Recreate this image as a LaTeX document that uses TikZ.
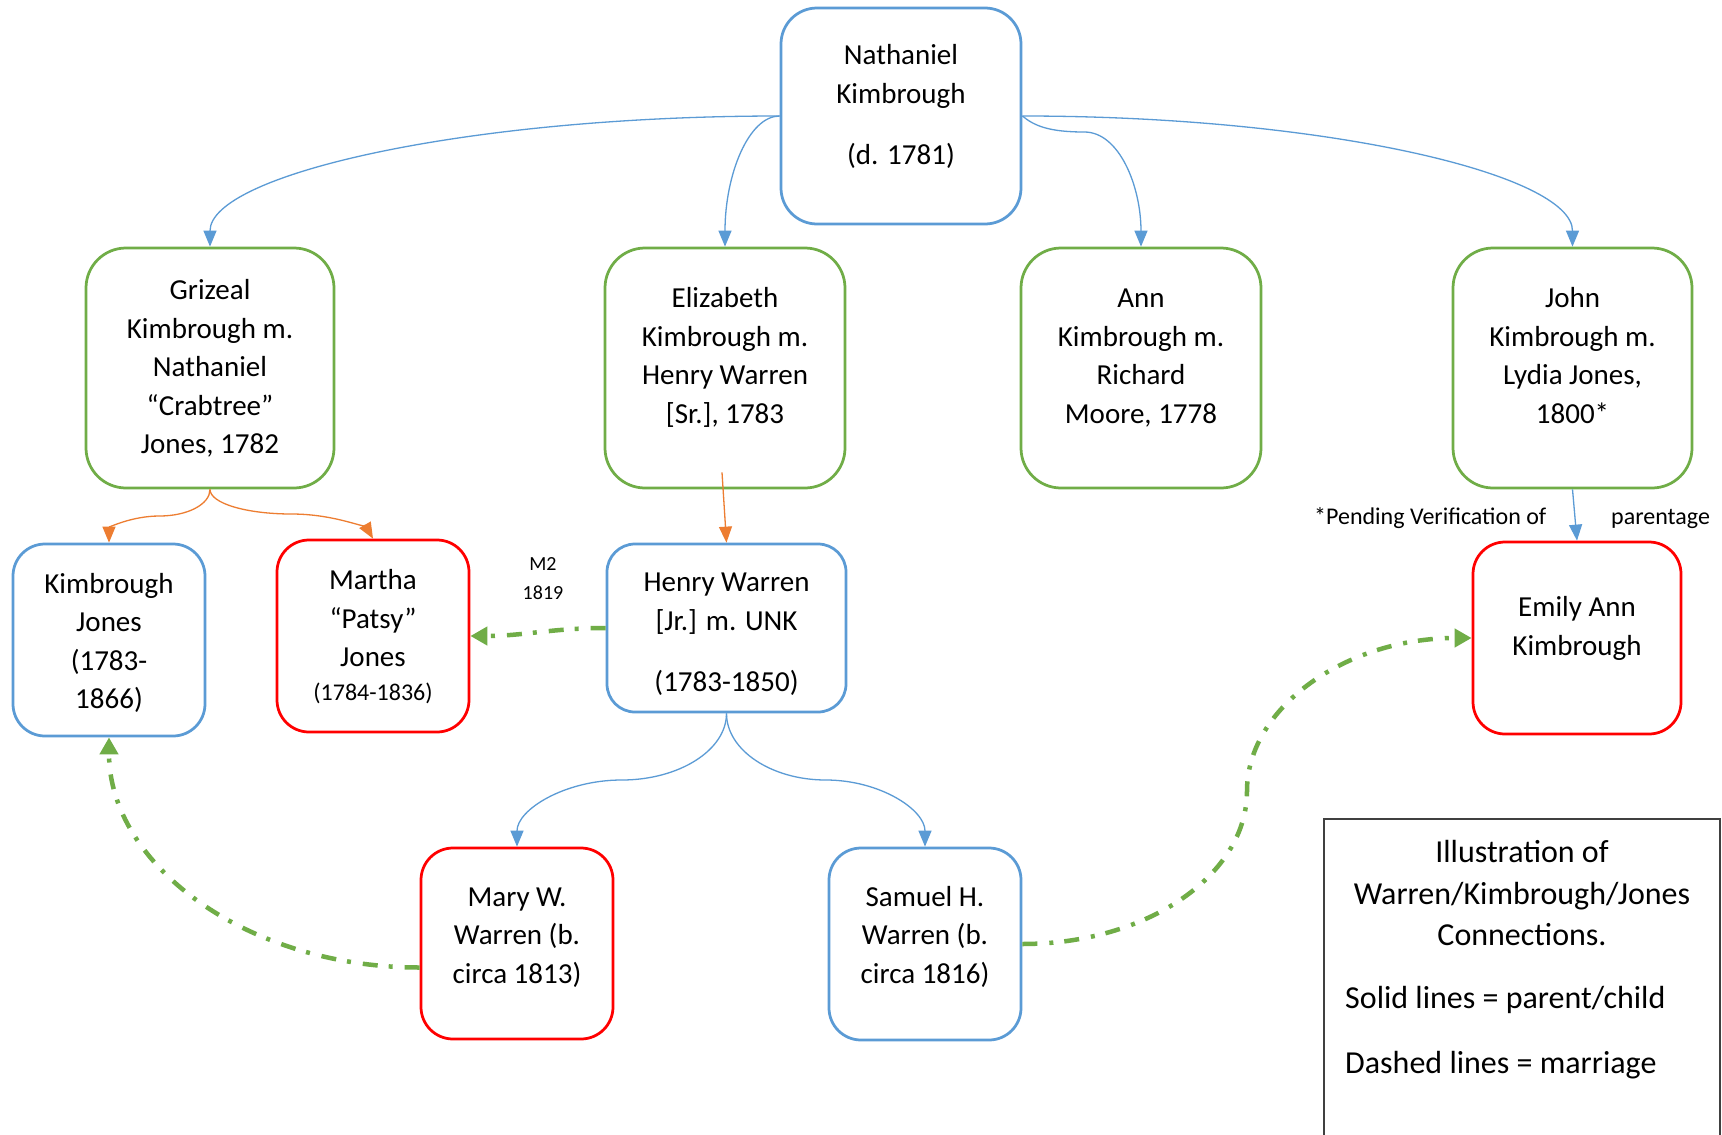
\documentclass[tikz,border=0pt]{standalone}
\usepackage{fontspec}
\setmainfont{Carlito}
\usetikzlibrary{arrows.meta,calc}
\definecolor{cblue}{HTML}{5B9BD5}
\definecolor{cgreen}{HTML}{70AD47}
\definecolor{cred}{HTML}{FF0000}
\definecolor{corange}{HTML}{ED7D31}
\definecolor{cgray}{HTML}{404040}
\newcommand\lh{\rule{0pt}{24pt}}
\begin{document}
\begin{tikzpicture}[x=1pt,y=-1pt,
  bx/.style={draw, rectangle, line width=2.75pt, inner sep=0pt, rounded corners=36pt},
  tx/.style={anchor=north, inner sep=0pt, align=center, font=\fontsize{29}{38.5}\selectfont},
  child/.style={line width=1.3pt, -{Triangle[width=13pt,length=16pt]}},
  marr/.style={color=cgreen, line width=4.5pt, dash pattern=on 15pt off 12pt on 4pt off 11pt, -{Triangle[width=18pt,length=17pt]}}]
\useasboundingbox (0,0) rectangle (1722,1135);
\fill[white] (0,0) rectangle (1722,1135);

% boxes
\node[bx, draw=cblue, minimum width=240pt, minimum height=216pt] (nath) at (901,116) {};
\node[bx, draw=cgreen, minimum width=248pt, minimum height=240pt, rounded corners=40pt] (griz) at (210,368) {};
\node[bx, draw=cgreen, minimum width=240pt, minimum height=240pt, rounded corners=40pt] (eliz) at (725,368) {};
\node[bx, draw=cgreen, minimum width=240pt, minimum height=240pt, rounded corners=40pt] (ann) at (1141,368) {};
\node[bx, draw=cgreen, minimum width=239pt, minimum height=240pt, rounded corners=40pt] (john) at (1572.5,368) {};
\node[bx, draw=cblue, minimum width=192pt, minimum height=192pt, rounded corners=32pt] (kj) at (109,640) {};
\node[bx, draw=cred, minimum width=192pt, minimum height=192pt, rounded corners=32pt] (martha) at (373,636) {};
\node[bx, draw=cblue, minimum width=239pt, minimum height=168pt, rounded corners=28pt] (henry) at (726.5,628) {};
\node[bx, draw=cred, minimum width=208pt, minimum height=192pt, rounded corners=32pt] (emily) at (1577,638) {};
\node[bx, draw=cred, minimum width=192pt, minimum height=191pt, rounded corners=32pt] (mary) at (517,943.5) {};
\node[bx, draw=cblue, minimum width=192pt, minimum height=192pt, rounded corners=32pt] (samuel) at (925,944) {};
\node[draw=cgray, line width=1.5pt, minimum width=396pt, minimum height=340pt, inner sep=0pt] (legend) at (1522,989) {};

% texts
\node[tx] (tnath) at (901,40.6) {\lh Nathaniel\\Kimbrough\\[23pt](d. 1781)};
\node[tx] (tgriz) at (210,275.6) {\lh Grizeal\\Kimbrough m.\\Nathaniel\\“Crabtree”\\Jones, 1782};
\node[tx] (teliz) at (725,283.6) {\lh Elizabeth\\Kimbrough m.\\Henry Warren\\{}[Sr.], 1783};
\node[tx] (tann) at (1141,283.6) {\lh Ann\\Kimbrough m.\\Richard\\Moore, 1778};
\node[tx] (tjohn) at (1572.5,283.6) {\lh John\\Kimbrough m.\\Lydia Jones,\\1800*};
\node[tx] (tkj) at (109,569.2) {\lh Kimbrough\\Jones\\(1783-\\1866)};
\node[tx] (tmartha) at (373,565.6) {\lh Martha\\“Patsy”\\Jones\\[-4.5pt]{\fontsize{24}{30}\selectfont (1784-1836)}};
\node[tx] (thenry) at (726.5,567.6) {\lh Henry Warren\\{}[Jr.] m. UNK\\[23pt](1783-1850)};
\node[tx] (temily) at (1577,592.6) {\lh Emily Ann\\Kimbrough};
\node[tx] (tmary) at (517,882) {\lh Mary W.\\Warren (b.\\circa 1813)};
\node[tx] (tsamuel) at (925,882) {\lh Samuel H.\\Warren (b.\\circa 1816)};
\node[anchor=north, align=center, inner sep=0pt, font=\fontsize{32}{41.5}\selectfont] (ltitle) at (1522,836.6) {\rule{0pt}{26pt}Illustration of\\Warren/Kimbrough/Jones\\Connections.};
\node[anchor=base west, inner sep=0pt, font=\fontsize{32}{40}\selectfont] (lsolid) at (1345,1008.6) {Solid lines = parent/child};
\node[anchor=base west, inner sep=0pt, font=\fontsize{32}{40}\selectfont] (ldash) at (1345,1073.6) {Dashed lines = marriage};
\node[anchor=north, align=center, inner sep=0pt, font=\fontsize{20}{28.5}\selectfont] (m2) at (543,553.6) {\rule{0pt}{17pt}M2\\1819};
\node[anchor=base west, inner sep=0pt, font=\fontsize{24}{30}\selectfont] (pend) at (1314,524) {*Pending Verification of};
\node[anchor=base west, inner sep=0pt, font=\fontsize{24}{30}\selectfont] (parent) at (1611,524) {parentage};

% parent/child connectors
\draw[child, cblue] (nath.west) to[out=180,in=90,out distance=314pt,in distance=72pt] (griz.north);
\draw[child, cblue] (nath.west) to[out=180,in=90,out distance=31pt,in distance=72pt] (eliz.north);
\draw[child, cblue] (nath.east) .. controls ($(nath.east)+(12,10)$) and ($(nath.east)+(27,16)$) .. ($(nath.east)+(62,16)$) to[out=0,in=90,out distance=35pt,in distance=60pt] (ann.north);
\draw[child, cblue] (nath.east) to[out=0,in=90,out distance=304pt,in distance=72pt] (john.north);

\coordinate (gm1) at ($(griz.south)!0.5!(kj.north)$);
\coordinate (gm2) at ($(griz.south)!0.5!(martha.north)$);
\draw[child, corange] (griz.south) to[out=-90,in=0,out distance=15pt,in distance=28pt] (gm1) to[out=180,in=90,out distance=28pt,in distance=15pt] (kj.north);
\draw[child, corange] (griz.south) to[out=-90,in=180,out distance=14pt,in distance=45pt] (gm2) to[out=0,in=120,out distance=45pt,in distance=10pt] (martha.north);
\draw[child, corange] ($(eliz.south)+(-3,-17)$) -- (henry.north);
\draw[child, cblue] (john.south) -- (emily.north);

\coordinate (hm1) at ($(henry.south)!0.5!(mary.north)$);
\coordinate (hm2) at ($(henry.south)!0.5!(samuel.north)$);
\draw[child, cblue] (henry.south) to[out=-90,in=0,out distance=37pt,in distance=57pt] (hm1) to[out=180,in=90,out distance=57pt,in distance=37pt] (mary.north);
\draw[child, cblue] (henry.south) to[out=-90,in=180,out distance=37pt,in distance=54pt] (hm2) to[out=0,in=90,out distance=54pt,in distance=37pt] (samuel.north);

% marriage connectors
\draw[marr] (henry.west) to[out=180,in=0] (martha.east);
\draw[marr] ($(mary.west)+(0,24)$) to[out=180,in=-90,out distance=172pt,in distance=128pt] (kj.south);
\coordinate (sm) at ($(samuel.east)!0.5!(emily.west)$);
\draw[marr] (samuel.east) to[out=0,in=-90,out distance=125pt,in distance=84pt] (sm) to[out=90,in=180,out distance=84pt,in distance=125pt] (emily.west);
\end{tikzpicture}
\end{document}
